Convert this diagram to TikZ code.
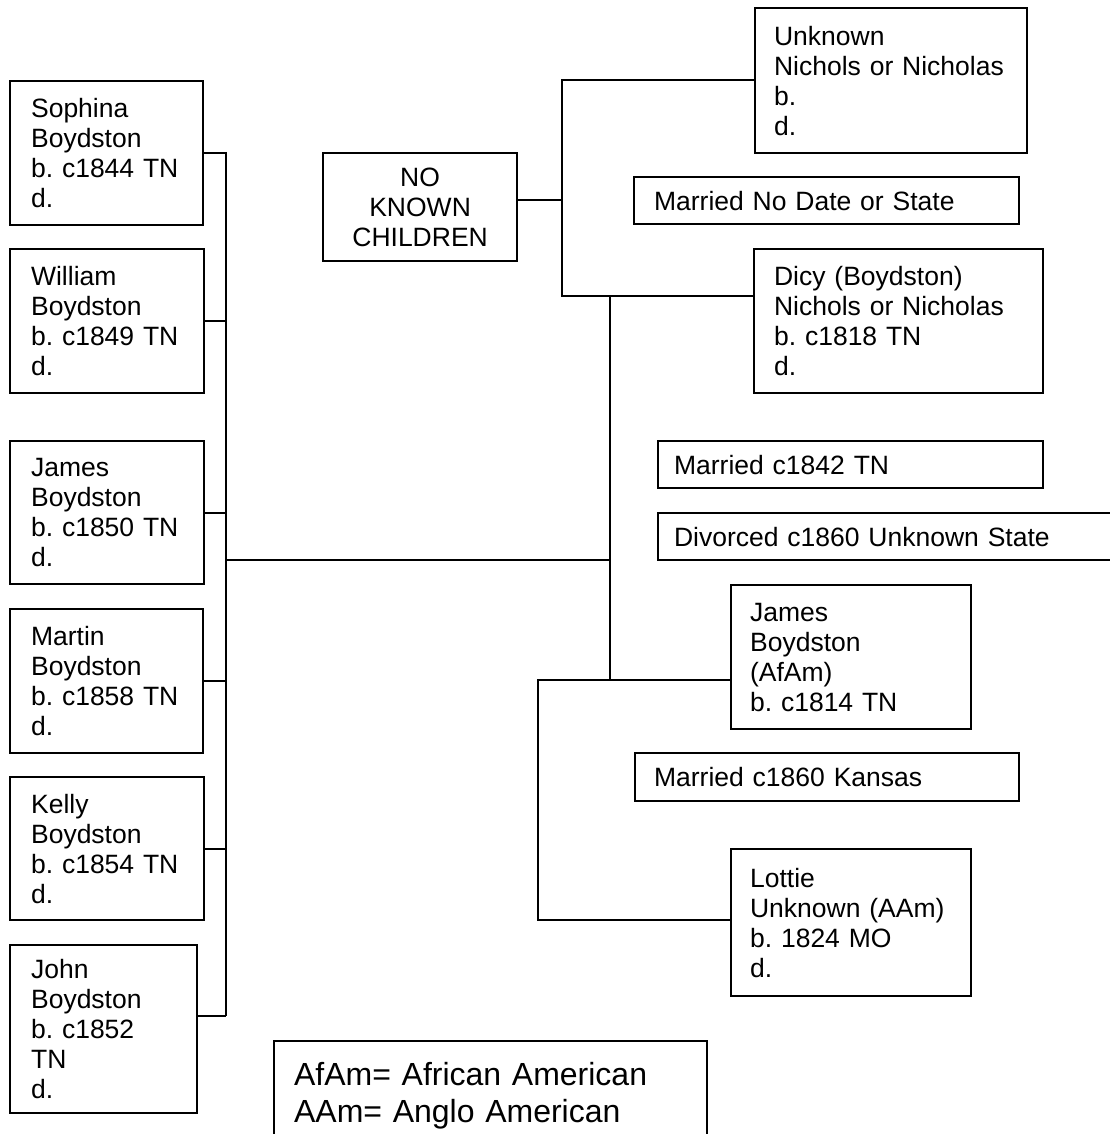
\documentclass[tikz,border=0pt]{standalone}
\usepackage{fontspec}
\setmainfont{Liberation Sans}
\frenchspacing
\tikzset{
  pbox/.style n args={3}{draw, line width=2.2pt, anchor=north west, inner xsep=#3, inner ysep=0pt,
    text width=#1-2*#3, minimum height=#2, align=left,
    font=\fontsize{26.5}{30}\selectfont\frenchspacing},
  cbox/.style n args={2}{draw, line width=2.2pt, anchor=north west, inner xsep=10pt, inner ysep=0pt,
    text width=#1-20pt, minimum height=#2, align=center,
    font=\fontsize{26.5}{30}\selectfont},
  legbox/.style={draw, line width=2.2pt, anchor=north west, inner xsep=20pt, inner ysep=21.6pt,
    text width=393pt, align=left, font=\fontsize{32}{36.7}\selectfont},
  conn/.style={line width=2.2pt}
}
\begin{document}
\begin{tikzpicture}[x=1pt,y=-1pt]
\useasboundingbox (0,0) rectangle (1109,1134);
% left column
\node[pbox={193pt}{144pt}{21pt}] (sophina) at (9,80) {Sophina\\Boydston\\b. c1844 TN\\d.};
\node[pbox={194pt}{144pt}{21pt}] (william) at (9,248) {William\\Boydston\\b. c1849 TN\\d.};
\node[pbox={194pt}{143pt}{21pt}] (jamesb) at (9,440) {James\\Boydston\\b. c1850 TN\\d.};
\node[pbox={193pt}{144pt}{21pt}] (martin) at (9,608) {Martin\\Boydston\\b. c1858 TN\\d.};
\node[pbox={194pt}{143pt}{21pt}] (kelly) at (9,776) {Kelly\\Boydston\\b. c1854 TN\\d.};
\node[pbox={187pt}{168pt}{21pt}] (john) at (9,944) {John\\Boydston\\b. c1852\\TN\\d.};
% centre
\node[cbox={194pt}{108pt}] (nkc) at (322,152) {NO\\KNOWN\\CHILDREN};
% right side
\node[pbox={272pt}{145pt}{19pt}] (unknown) at (754,7) {Unknown\\Nichols or Nicholas\\b.\\d.};
\node[pbox={385pt}{47pt}{20pt}] (mnd) at (633,176) {Married No Date or State};
\node[pbox={289pt}{144pt}{20pt}] (dicy) at (753,248) {Dicy (Boydston)\\Nichols or Nicholas\\b. c1818 TN\\d.};
\node[pbox={385pt}{47pt}{16pt}] (m1842) at (657,440) {Married c1842 TN};
\node[pbox={480pt}{47pt}{16pt}] (div) at (657,512) {Divorced c1860 Unknown State};
\node[pbox={240pt}{144pt}{19pt}] (jamesa) at (730,584) {James\\Boydston\\(AfAm)\\b. c1814 TN};
\node[pbox={384pt}{48pt}{19pt}] (mks) at (634,752) {Married c1860 Kansas};
\node[pbox={240pt}{147pt}{19pt}] (lottie) at (730,848) {Lottie\\Unknown (AAm)\\b. 1824 MO\\d.};
% legend
\node[legbox] (legend) at (273,1040) {AfAm= African American\\AAm= Anglo American};
% connector coordinates
\coordinate (lt) at (226,152);
\coordinate (lb) at (226,1016);
\coordinate (lm) at (226,560);
\coordinate (sm) at (610,560);
\coordinate (nv) at (562,200);
\coordinate (ut) at (562,80);
\coordinate (db) at (562,296);
\coordinate (st) at (610,296);
\coordinate (jl) at (538,680);
\coordinate (sb) at (610,680);
\coordinate (lc) at (538,920);
% left bracket
\draw[conn] (lt) -- (lb);
\draw[conn] (sophina.east) -- (sophina.east -| lt);
\draw[conn] (william.east) -- (william.east -| lt);
\draw[conn] (jamesb.east) -- (jamesb.east -| lt);
\draw[conn] (martin.east) -- (martin.east -| lt);
\draw[conn] (kelly.east) -- (kelly.east -| lt);
\draw[conn] (lb -| john.east) -- (lb);
\draw[conn] (lm) -- (sm);
% no known children
\draw[conn] (nv -| nkc.east) -- (nv);
\draw[conn] (ut -| unknown.west) -- (ut) -- (db) -- (db -| dicy.west);
% spine
\draw[conn] (st) -- (sb);
\draw[conn] (jl -| jamesa.west) -- (jl) -- (lc) -- (lc -| lottie.west);
\end{tikzpicture}
\end{document}
